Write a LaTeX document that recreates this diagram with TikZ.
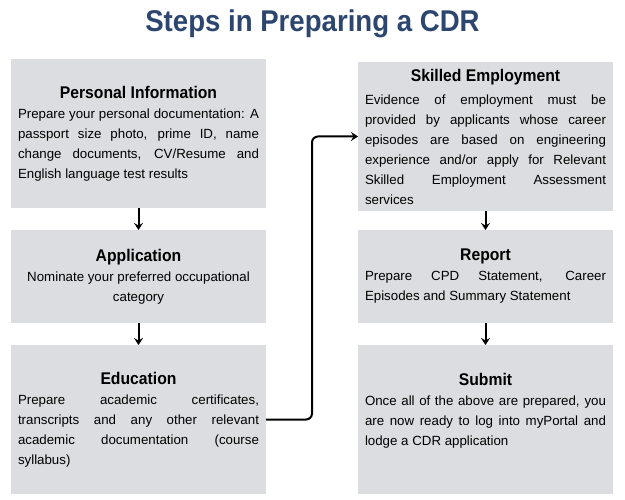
\documentclass[tikz,border=0pt]{standalone}
\usepackage{fontspec}
\setmainfont{Liberation Sans}
\newfontfamily\titlefont[FakeStretch=0.92]{Liberation Sans}
\newfontfamily\headfont[FakeStretch=0.93]{Liberation Sans}
\usepackage{tikz}
\usetikzlibrary{arrows.meta}
\usetikzlibrary{positioning}
\definecolor{titleblue}{RGB}{44,70,112}
\definecolor{boxgray}{RGB}{220,221,224}
\setlength{\parindent}{0pt}
\hyphenpenalty=10000
\exhyphenpenalty=10000
\newcommand{\stephead}[1]{{\centering\headfont\bfseries\fontsize{16.9}{21}\selectfont #1\par}}

\begin{document}
\begin{tikzpicture}[x=1pt,y=-1pt,->,>={Stealth[length=7pt,width=9pt,inset=2.5pt]},line width=2pt,
  step box/.style={fill=boxgray,text width=241pt,inner xsep=7pt,inner ysep=3pt,outer sep=0pt,align=justify,
    font=\fontsize{13.3}{20}\selectfont,minimum height=149pt},
  short box/.style={step box,minimum height=93pt},
  title node/.style={text=titleblue,font=\titlefont\bfseries\fontsize{30}{36}\selectfont}]

  \useasboundingbox (0,0) rectangle (625,500);

  \node[title node] (title) at (312.5,32) [anchor=base] {Steps in Preparing a CDR};

  \node[step box] (1) at (138.5,133.5) {\stephead{Personal Information}Prepare your personal documentation: A\linebreak passport size photo, prime ID, name\linebreak change documents, CV/Resume and\linebreak English language test results};
  \node[short box] (2) [below=22pt of 1] {\stephead{Application}{\centering Nominate your preferred occupational category\par}};
  \node[step box] (3) [below=22pt of 2] {\stephead{Education}Prepare academic certificates,\linebreak transcripts and any other relevant\linebreak academic documentation (course\linebreak syllabus)};

  \node[step box] (4) at (485.5,136.5) {\vspace*{3pt}\stephead{Skilled Employment}Evidence of employment must be\linebreak provided by applicants whose career\linebreak episodes are based on engineering\linebreak experience and/or apply for Relevant\linebreak Skilled Employment Assessment\linebreak services};
  \node[short box] (5) [below=19pt of 4] {\stephead{Report}Prepare CPD Statement, Career\linebreak Episodes and Summary Statement};
  \node[step box] (6) [below=22pt of 5] {\stephead{Submit}Once all of the above are prepared, you\linebreak are now ready to log into myPortal and\linebreak lodge a CDR application\par\mbox{}};

  \path (1) edge (2);
  \path (2) edge (3);
  \draw[rounded corners=6pt] (3.east) -- ++(46,0) |- (4.west);
  \path (4) edge (5);
  \path (5) edge (6);
\end{tikzpicture}
\end{document}
